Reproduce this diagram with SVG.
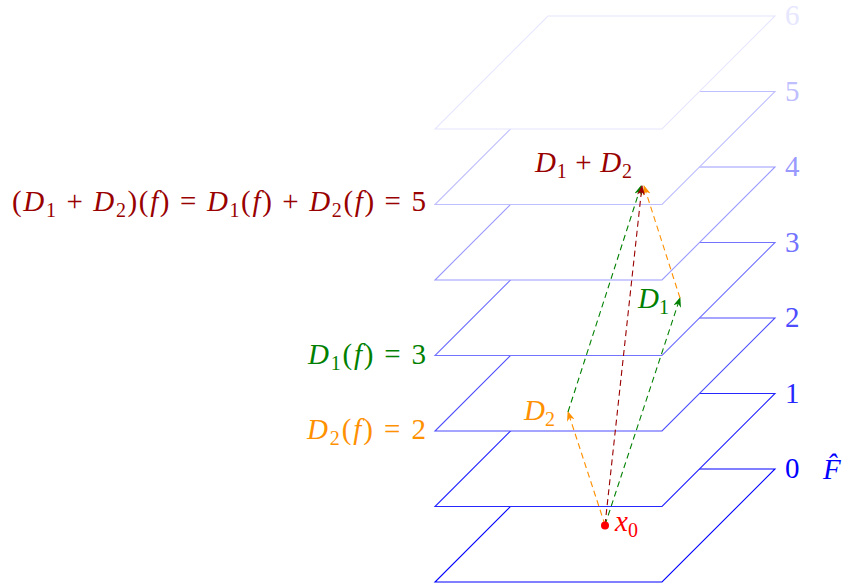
<svg xmlns="http://www.w3.org/2000/svg" width="842" height="585" viewBox="0 0 842 585">
<style>
text{font-family:"Liberation Serif","Times New Roman",serif;font-size:29px}
.it{font-style:italic}
.sub{font-size:20px}
.layer polygon{fill:#fff;stroke-width:1.1}
.conn line{fill:none;stroke-width:1.1;stroke-dasharray:6 4}
</style>
<defs>
<marker id="aO" viewBox="0 0 10 8" refX="9" refY="4" markerWidth="10" markerHeight="8" markerUnits="userSpaceOnUse" orient="auto"><path d="M0,0 L10,4 L0,8 L3,4 z" fill="#FF9000"/></marker>
<marker id="aG" viewBox="0 0 10 8" refX="9" refY="4" markerWidth="10" markerHeight="8" markerUnits="userSpaceOnUse" orient="auto"><path d="M0,0 L10,4 L0,8 L3,4 z" fill="#008000"/></marker>
<marker id="aR" viewBox="0 0 10 8" refX="9" refY="4" markerWidth="10" markerHeight="8" markerUnits="userSpaceOnUse" orient="auto"><path d="M0,0 L10,4 L0,8 L3,4 z" fill="#990000"/></marker>
</defs>

<g id="layer0" class="layer"><polygon points="435,582 662,582 775,469 548,469" stroke="#0000FF"/><text x="785" y="478" fill="#0000FF">0</text></g>
<g id="layer1" class="layer"><polygon points="435,506.5 662,506.5 775,393.5 548,393.5" stroke="#2626FF"/><text x="785" y="402.5" fill="#2626FF">1</text></g>
<g id="layer2" class="layer"><polygon points="435,431 662,431 775,318 548,318" stroke="#4D4DFF"/><text x="785" y="327" fill="#4D4DFF">2</text></g>
<g id="layer3" class="layer"><polygon points="435,355.5 662,355.5 775,242.5 548,242.5" stroke="#7373FF"/><text x="785" y="251.5" fill="#7373FF">3</text></g>
<g id="layer4" class="layer"><polygon points="435,280 662,280 775,167 548,167" stroke="#9999FF"/><text x="785" y="176" fill="#9999FF">4</text></g>
<g id="layer5" class="layer"><polygon points="435,204.5 662,204.5 775,91.5 548,91.5" stroke="#BFBFFF"/><text x="785" y="100.5" fill="#BFBFFF">5</text></g>
<g id="layer6" class="layer"><polygon points="435,129 662,129 775,16 548,16" stroke="#E6E6FF"/><text x="785" y="25" fill="#E6E6FF">6</text></g>

<g id="Fhat"><text x="823" y="479" fill="#0000FF" class="it">F̂</text></g>

<g id="labels">
<text x="12" y="211" textLength="414" fill="#990000">(<tspan class="it">D</tspan><tspan class="sub" dy="6">1</tspan><tspan dy="-6"> + </tspan><tspan class="it">D</tspan><tspan class="sub" dy="6">2</tspan><tspan dy="-6">)(</tspan><tspan class="it">f</tspan>) = <tspan class="it">D</tspan><tspan class="sub" dy="6">1</tspan><tspan dy="-6">(</tspan><tspan class="it">f</tspan>) + <tspan class="it">D</tspan><tspan class="sub" dy="6">2</tspan><tspan dy="-6">(</tspan><tspan class="it">f</tspan>) = 5</text>
<text x="308" y="364" textLength="118" fill="#008000"><tspan class="it">D</tspan><tspan class="sub" dy="6">1</tspan><tspan dy="-6">(</tspan><tspan class="it">f</tspan>) = 3</text>
<text x="307" y="439" textLength="119" fill="#FF9000"><tspan class="it">D</tspan><tspan class="sub" dy="6">2</tspan><tspan dy="-6">(</tspan><tspan class="it">f</tspan>) = 2</text>
<text x="535" y="172" textLength="97" fill="#990000"><tspan class="it">D</tspan><tspan class="sub" dy="6">1</tspan><tspan dy="-6"> + </tspan><tspan class="it">D</tspan><tspan class="sub" dy="6">2</tspan></text>
<text x="638" y="308" fill="#008000"><tspan class="it">D</tspan><tspan class="sub" dy="6">1</tspan></text>
<text x="524" y="420" fill="#FF9000"><tspan class="it">D</tspan><tspan class="sub" dy="6">2</tspan></text>
</g>

<g id="connectors" class="conn">
<line x1="605" y1="525" x2="568" y2="412" stroke="#FF9000" marker-end="url(#aO)"/>
<line x1="605" y1="525" x2="680" y2="298" stroke="#008000" marker-end="url(#aG)"/>
<line x1="568" y1="412" x2="641" y2="186" stroke="#008000" marker-end="url(#aG)"/>
<line x1="680" y1="298" x2="644" y2="186" stroke="#FF9000" marker-end="url(#aO)"/>
<line x1="605" y1="525" x2="642" y2="186" stroke="#990000" marker-end="url(#aR)"/>
</g>

<g id="x0">
<circle cx="605" cy="525.5" r="4" fill="#FF0000"/>
<text x="615" y="531" fill="#FF0000"><tspan class="it">x</tspan><tspan class="sub" dy="6">0</tspan></text>
</g>
</svg>
